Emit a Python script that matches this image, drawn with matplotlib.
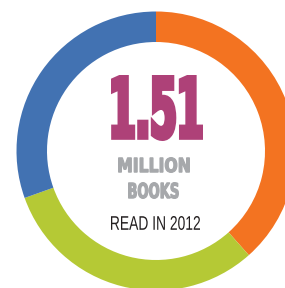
import matplotlib
matplotlib.use("Agg")
import matplotlib.pyplot as plt
from matplotlib.patheffects import AbstractPathEffect
from matplotlib.transforms import Affine2D

# share of the 1.51 million books (millions)
groups = ["A", "B", "C"]
books = [0.58, 0.47, 0.46]
colors = ["#F37321", "#B5C935", "#4272B2"]

big_number = "1.51"
line1 = "MILLION"
line2 = "BOOKS"
line3 = "READ IN 2012"


class FitBox(AbstractPathEffect):
    # squeeze/stretch the glyph outline so its ink fills a box (data coords),
    # optionally fattening the strokes by `bold` pixels
    def __init__(self, ax, box, bold=0.0):
        super().__init__()
        self.ax = ax
        self.box = box
        self.bold = bold

    def draw_path(self, renderer, gc, tpath, affine, rgbFace=None):
        x0, y0, x1, y1 = self.box
        (px0, py0), (px1, py1) = self.ax.transData.transform([(x0, y0), (x1, y1)])
        b = self.bold / 2
        px0, px1 = min(px0, px1) + b, max(px0, px1) - b
        py0, py1 = min(py0, py1) + b, max(py0, py1) - b
        ext = tpath.get_extents(affine)
        fit = (Affine2D().translate(-ext.x0, -ext.y0)
               .scale((px1 - px0) / ext.width, (py1 - py0) / ext.height)
               .translate(px0, py0))
        gc0 = renderer.new_gc()
        gc0.copy_properties(gc)
        if self.bold > 0:
            gc0.set_linewidth(self.bold * 72 / fig.dpi)
            gc0.set_foreground(rgbFace)
            gc0.set_joinstyle("miter")
        else:
            gc0.set_linewidth(0)
        renderer.draw_path(gc0, tpath, affine + fit, rgbFace)
        gc0.restore()


H = 288
fig = plt.figure(figsize=(2.85, 2.88), dpi=100)
ax = fig.add_axes([0, 0, 1, 1])

ax.pie(books, colors=colors, startangle=90, counterclock=False,
       center=(156, H - 151), radius=139.5,
       wedgeprops=dict(width=30.5, linewidth=0))

ax.set_xlim(0, 285)
ax.set_ylim(0, H)
ax.set_aspect("auto")
ax.axis("off")


def box_text(s, box, color, size, weight, family, bold=0.0):
    x0, y0, x1, y1 = box  # image pixel box (top-left origin)
    t = ax.text((x0 + x1) / 2, H - (y0 + y1) / 2, s, ha="center", va="center",
                color=color, fontsize=size, fontweight=weight, family=family)
    t.set_path_effects([FitBox(ax, (x0, H - y1, x1, H - y0), bold)])
    return t


box_text(big_number, (111, 75, 203, 141), "#AE4178", 48, "bold", "DejaVu Sans", bold=4.5)
box_text(line1, (118, 157, 190, 173), "#A6A8AB", 12, "bold", "DejaVu Sans", bold=1.2)
box_text(line2, (128, 182, 179, 199), "#A6A8AB", 12, "bold", "DejaVu Sans", bold=1.2)
box_text(line3, (111, 216, 200, 230), "#231F20", 10, "normal", "Liberation Sans")

fig.savefig("out.png", dpi=100)
